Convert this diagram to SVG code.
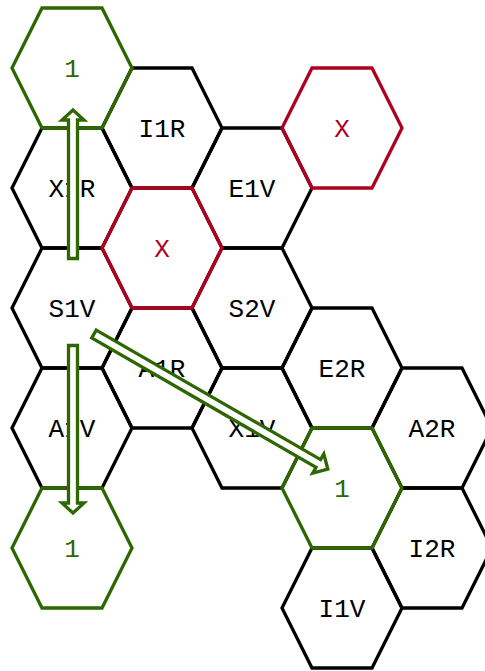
<svg xmlns="http://www.w3.org/2000/svg" width="485" height="671" viewBox="0 0 485 671">
<style>
.hex{fill:none;stroke-width:3.3;stroke-linejoin:miter}
.k{stroke:#000}
.r{stroke:#b0001f}
.g{stroke:#2e6600}
text{font-family:"Liberation Mono","DejaVu Sans Mono",monospace;font-size:26px;text-anchor:middle}
.tk{fill:#000}
.tr{fill:#b0001f}
.tg{fill:#2e6600}
.arrow{fill:#fff;stroke:#2e6600;stroke-width:3.3;stroke-linejoin:miter}
</style>
<rect width="485" height="671" fill="#fff"/>
<g id="X1R"><polygon class="hex k" points="12,188 42,128 102,128 132,188 102,248 42,248"/><text class="tk" x="72" y="197">X1R</text></g>
<g id="S1V"><polygon class="hex k" points="12,308 42,248 102,248 132,308 102,368 42,368"/><text class="tk" x="72" y="317">S1V</text></g>
<g id="A1V"><polygon class="hex k" points="12,428 42,368 102,368 132,428 102,488 42,488"/><text class="tk" x="72" y="437">A1V</text></g>
<g id="I1R"><polygon class="hex k" points="102,128 132,68 192,68 222,128 192,188 132,188"/><text class="tk" x="162" y="137">I1R</text></g>
<g id="A1R"><polygon class="hex k" points="102,368 132,308 192,308 222,368 192,428 132,428"/><text class="tk" x="162" y="377">A1R</text></g>
<g id="E1V"><polygon class="hex k" points="192,188 222,128 282,128 312,188 282,248 222,248"/><text class="tk" x="252" y="197">E1V</text></g>
<g id="S2V"><polygon class="hex k" points="192,308 222,248 282,248 312,308 282,368 222,368"/><text class="tk" x="252" y="317">S2V</text></g>
<g id="X1V"><polygon class="hex k" points="192,428 222,368 282,368 312,428 282,488 222,488"/><text class="tk" x="252" y="437">X1V</text></g>
<g id="E2R"><polygon class="hex k" points="282,368 312,308 372,308 402,368 372,428 312,428"/><text class="tk" x="342" y="377">E2R</text></g>
<g id="I1V"><polygon class="hex k" points="282,608 312,548 372,548 402,608 372,668 312,668"/><text class="tk" x="342" y="617">I1V</text></g>
<g id="A2R"><polygon class="hex k" points="372,428 402,368 462,368 492,428 462,488 402,488"/><text class="tk" x="432" y="437">A2R</text></g>
<g id="I2R"><polygon class="hex k" points="372,548 402,488 462,488 492,548 462,608 402,608"/><text class="tk" x="432" y="557">I2R</text></g>
<g id="X_a"><polygon class="hex r" points="102,248 132,188 192,188 222,248 192,308 132,308"/><text class="tr" x="162" y="257">X</text></g>
<g id="X_b"><polygon class="hex r" points="282,128 312,68 372,68 402,128 372,188 312,188"/><text class="tr" x="342" y="137">X</text></g>
<g id="one_top"><polygon class="hex g" points="12,68 42,8 102,8 132,68 102,128 42,128"/><text class="tg" x="72" y="77">1</text></g>
<g id="one_bottom"><polygon class="hex g" points="12,548 42,488 102,488 132,548 102,608 42,608"/><text class="tg" x="72" y="557">1</text></g>
<g id="one_right"><polygon class="hex g" points="282,488 312,428 372,428 402,488 372,548 312,548"/><text class="tg" x="342" y="497">1</text></g>
<g id="connectors">
<polygon class="arrow" points="68.5,258.5 68.5,120 62,120 73,110 84,120 77.5,120 77.5,258.5"/>
<polygon class="arrow" points="68.5,345.5 68.5,503 62,503 73,513 84,503 77.5,503 77.5,345.5"/>
<polygon class="arrow" transform="translate(94,334) rotate(30)" points="0,-4.5 259,-4.5 259,-11 270,0 259,11 259,4.5 0,4.5"/>
</g>
</svg>
